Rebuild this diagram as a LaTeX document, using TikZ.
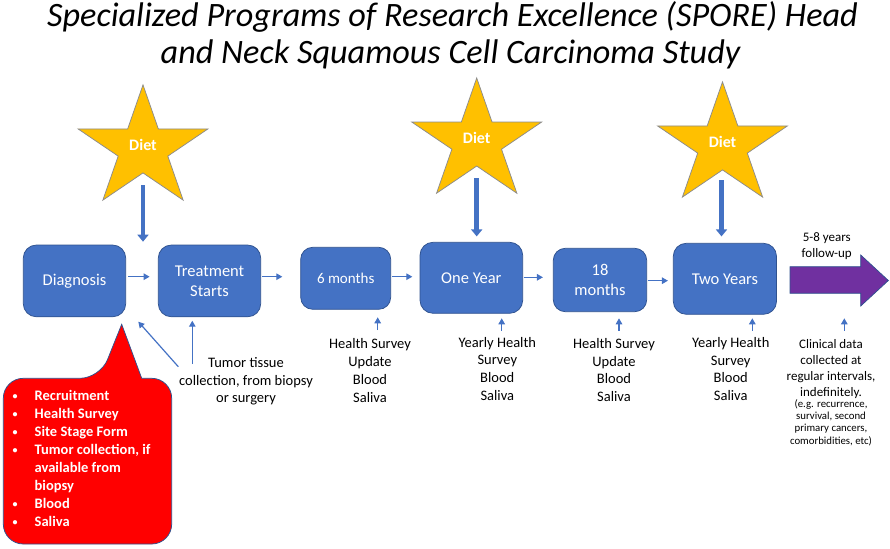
\documentclass[tikz,border=0pt]{standalone}
\usepackage{fontspec}
\setmainfont{Carlito}
\usetikzlibrary{arrows.meta,calc}
\definecolor{boxblue}{HTML}{4472C4}
\definecolor{edgeblue}{HTML}{2F528F}
\definecolor{stargold}{HTML}{FFC000}
\definecolor{staredge}{HTML}{8C8C8C}
\definecolor{purp}{HTML}{7030A0}
\definecolor{calloutred}{HTML}{FF0000}
\newcommand\dietstar[3]{%
  \draw[starshape] plot[samples at={0,...,9}]
    ({#1+68.3*(1-0.618*mod(\x,2))*cos(90+36*\x)},{#2-63.7*(1-0.618*mod(\x,2))*sin(90+36*\x)}) -- cycle;
  \node[diettext] (#3) at (#1,#2-4) {Diet};%
}
\begin{document}
\begin{tikzpicture}[x=1pt,y=-1pt,
  box/.style={draw=edgeblue, line width=0.75pt, fill=boxblue, rounded corners=13pt,
    text=white, font=\fontsize{16.5}{20}\selectfont, align=center, inner sep=0pt},
  starshape/.style={draw=staredge, line width=0.75pt, fill=stargold},
  diettext/.style={text=white, font=\bfseries\fontsize{16}{18}\selectfont, inner sep=0pt},
  thickarr/.style={draw=boxblue, line width=4.5pt, -{Triangle[width=11pt,length=7pt]}},
  thinarr/.style={draw=boxblue, line width=1.2pt, -{Triangle[width=6.5pt,length=6pt]}},
  lbl/.style={font=\fontsize{14.5}{18}\selectfont, anchor=base, inner sep=0pt},
  clin/.style={font=\fontsize{13}{16}\selectfont, anchor=base, inner sep=0pt},
  tiny/.style={font=\fontsize{10.8}{12}\selectfont, anchor=base, inner sep=0pt},
  bul/.style={text=white, font=\bfseries\fontsize{14.5}{18}\selectfont, inner sep=0pt},
  titletext/.style={font=\itshape\fontsize{34.2}{38}\selectfont, anchor=base, inner sep=0pt}
]
\useasboundingbox (0,0) rectangle (890,548);

% title
\node[titletext] (t1) at (452.5,27) {Specialized Programs of Research Excellence (SPORE) Head};
\node[titletext] (t2) at (450.5,63.5) {and Neck Squamous Cell Carcinoma Study};

% stars
\dietstar{143}{148.6}{diet1}
\dietstar{476.7}{141.7}{diet2}
\dietstar{722.5}{145.6}{diet3}

% boxes
\node[box, minimum width=102.4pt, minimum height=71.7pt] (diag) at (74.5,280.9) {Diagnosis};
\node[box, minimum width=102.4pt, minimum height=71.7pt] (treat) at (209.5,280.9) {Treatment\\Starts};
\node[box, minimum width=90pt, minimum height=62pt, rounded corners=12pt, font=\fontsize{15}{18}\selectfont] (six) at (345.7,278.3) {6 months};
\node[box, minimum width=102.7pt, minimum height=71pt] (oney) at (471.35,277.8) {One Year};
\node[box, minimum width=93.4pt, minimum height=63.4pt, rounded corners=12pt] (eighteen) at (600,280) {18\\months};
\node[box, minimum width=103.2pt, minimum height=71pt] (twoy) at (724.9,278.8) {Two Years};

% thick arrows from stars
\coordinate (s1) at (143,185);
\coordinate (e1) at (143,241.7);
\coordinate (s2) at (476.7,178);
\coordinate (s3) at (721.5,180);
\draw[thickarr] (s1) -- (e1);
\draw[thickarr, shorten >=5.5pt] (s2) -- (s2 |- oney.north);
\draw[thickarr, shorten >=6.5pt] (s3) -- (s3 |- twoy.north);

% horizontal thin arrows
\coordinate (h1) at ([yshift=4.2pt]diag.east);
\coordinate (h2) at ([yshift=4.2pt]treat.east);
\coordinate (h3) at ([yshift=1.6pt]six.east);
\coordinate (h4) at ([yshift=0.5pt]oney.east);
\coordinate (h5) at ([yshift=-0.7pt]eighteen.east);
\draw[thinarr, shorten <=2.3pt, shorten >=8.3pt] (h1) -- (h1 -| treat.west);
\draw[thinarr, shorten <=1pt, shorten >=18pt] (h2) -- (h2 -| six.west);
\draw[thinarr, shorten <=1pt, shorten >=7.3pt] (h3) -- (h3 -| oney.west);
\draw[thinarr, shorten <=0.6pt, shorten >=10pt] (h4) -- (h4 -| eighteen.west);
\draw[thinarr, shorten <=0.6pt, shorten >=5pt] (h5) -- (h5 -| twoy.west);

% purple follow-up arrow
\draw[draw=edgeblue, line width=0.75pt, fill=purp]
  (790,266.7) -- (860.7,266.7) -- (860.7,255) -- (888.3,280.5) -- (860.7,306)
  -- (860.7,293.3) -- (790,293.3) -- cycle;
\node[clin] (fu1) at (826.7,241.7) {5-8 years};
\node[clin] (fu2) at (826.7,257.7) {follow-up};

% tumor tissue arrows
\coordinate (tt1) at (192.3,364);
\coordinate (tt2) at (178.3,366.7);
\coordinate (tt2e) at (138.3,321.7);
\draw[thinarr] (tt1) -- (tt1 |- 0,320.7);
\draw[thinarr] (tt2) -- (tt2e);
\foreach \t [count=\k] in {Tumor tissue,{collection, from biopsy},or surgery}
  \node[lbl] (tum\k) at (246,{367.3+17.7*(\k-1)}) {\t};

% up arrows under milestones
\coordinate (u6) at (377.7,330);
\coordinate (uoy) at (501.7,330.7);
\coordinate (u18) at (619,330.7);
\coordinate (uty) at (752.3,330.7);
\coordinate (ucl) at (844.3,330.7);
\draw[thinarr] (u6) -- ++(0,-12.7);
\draw[thinarr] (uoy) -- ++(0,-12.4);
\draw[thinarr] (u18) -- ++(0,-12.4);
\draw[thinarr] (uty) -- ++(0,-12.4);
\draw[thinarr] (ucl) -- ++(0,-12.4);

\foreach \t [count=\k] in {Health Survey,Update,Blood,Saliva}
  \node[lbl] (sixl\k) at (370,{348.8+18*(\k-1)}) {\t};
\foreach \t [count=\k] in {Yearly Health,Survey,Blood,Saliva}
  \node[lbl] (oyl\k) at (497.3,{347+17.9*(\k-1)}) {\t};
\foreach \t [count=\k] in {Health Survey,Update,Blood,Saliva}
  \node[lbl] (eil\k) at (614,{348.3+17.8*(\k-1)}) {\t};
\foreach \t [count=\k] in {Yearly Health,Survey,Blood,Saliva}
  \node[lbl] (tyl\k) at (730.7,{347.3+17.8*(\k-1)}) {\t};
\foreach \t [count=\k] in {Clinical data,collected at,{regular intervals,},indefinitely.}
  \node[clin] (cl\k) at (831,{348.3+16*(\k-1)}) {\t};
\foreach \t [count=\k] in {{(e.g. recurrence,},{survival, second},{primary cancers,},{comorbidities, etc)}}
  \node[tiny] (ct\k) at (831,{407.3+12.33*(\k-1)}) {\t};

% red callout
\draw[draw=edgeblue, line width=0.75pt, fill=calloutred]
  (141.7,378.3) [rounded corners=20pt] -- (171.7,378.3) -- (171.7,544) -- (3.3,544)
  -- (3.3,378.3) -- (100,378.3) [sharp corners] -- (121.7,324.3) -- cycle;
\foreach \t/\b [count=\k] in {Recruitment/1,Health Survey/1,Site Stage Form/1,{Tumor collection, if}/1,available from/0,biopsy/0,Blood/1,Saliva/1}{
  \node[bul, anchor=base west] (it\k) at (34.5,{400.7+18*(\k-1)}) {\t};
  \ifnum\b=1 \node[bul, anchor=base, font=\bfseries\fontsize{10}{12}\selectfont] (bu\k) at (15,{399.5+18*(\k-1)}) {•};\fi
}
\end{tikzpicture}
\end{document}
